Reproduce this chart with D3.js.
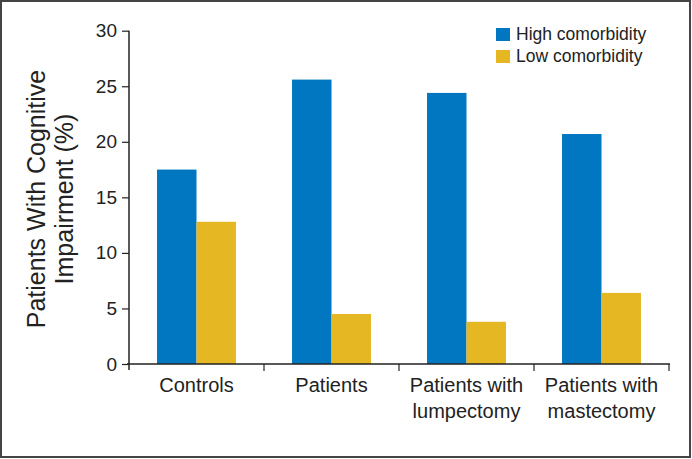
<!DOCTYPE html>
<html><head><meta charset="utf-8">
<script src="https://cdn.jsdelivr.net/npm/d3@7"></script>
<style>
html,body{margin:0;padding:0;background:#fff;}
svg{display:block;font-family:"Liberation Sans",Arial,sans-serif;}
</style></head>
<body><svg id="c" width="692" height="459"></svg>
<script>
const categories = [["Controls"], ["Patients"], ["Patients with", "lumpectomy"], ["Patients with", "mastectomy"]];
const seriesNames = ["High comorbidity", "Low comorbidity"];
const highValues = [17.5, 25.6, 24.4, 20.7];
const lowValues = [12.8, 4.5, 3.8, 6.4];
const yTicks = [0, 5, 10, 15, 20, 25, 30];
const colors = ["#0077C0", "#E5B823"];

const svg = d3.select("#c");
const W = 692, H = 459;
const m = {left: 129};

svg.append("rect").attr("x", 1).attr("y", 1).attr("width", W - 3).attr("height", H - 3)
  .attr("fill", "#fff").attr("stroke", "#444").attr("stroke-width", 2);

const x = d3.scaleBand().domain(d3.range(categories.length)).range([m.left, 669]).paddingInner(0).paddingOuter(0);
const y = d3.scaleLinear().domain([0, 30]).range([364, 30.7]);
const inner = d3.scaleBand().domain(d3.range(2)).range([0, x.bandwidth()]).paddingInner(0).paddingOuter(0.71);

const data = categories.map((c, i) => ({i, vals: [highValues[i], lowValues[i]]}));

const g = svg.append("g").selectAll("g").data(data).join("g")
  .attr("transform", d => `translate(${x(d.i)},0)`);
g.selectAll("rect").data(d => d.vals.map((v, k) => ({v, k}))).join("rect")
  .attr("x", d => inner(d.k)).attr("width", inner.bandwidth())
  .attr("y", d => y(d.v)).attr("height", d => y(0) - y(d.v))
  .attr("fill", d => colors[d.k]);

// y axis
const ya = svg.append("g").attr("transform", `translate(${m.left},0)`)
  .call(d3.axisLeft(y).tickValues(yTicks).tickSize(7).tickPadding(5));
ya.select(".domain").attr("stroke", "#222").attr("stroke-width", 1.5).attr("d", `M-0,${y(0)+6}V${y(30)}`);
ya.selectAll(".tick line").attr("stroke", "#222").attr("stroke-width", 1.2);
ya.selectAll(".tick text").attr("fill", "#222").style("font-size", "19px");

// x axis
const xa = svg.append("g").attr("transform", `translate(0,${y(0)})`);
xa.append("line").attr("x1", m.left - 2).attr("x2", 670).attr("y1", 0).attr("y2", 0)
  .attr("stroke", "#222").attr("stroke-width", 1.5);
xa.selectAll("line.tk").data(d3.range(1, categories.length + 1)).join("line").attr("class", "tk")
  .attr("x1", d => x(d - 1) + x.bandwidth()).attr("x2", d => x(d - 1) + x.bandwidth())
  .attr("y1", 0).attr("y2", 7).attr("stroke", "#222").attr("stroke-width", 1.2);
xa.selectAll("text").data(data).join("text")
  .attr("x", d => x(d.i) + x.bandwidth() / 2).attr("y", 28)
  .attr("text-anchor", "middle").attr("fill", "#222").style("font-size", "20px")
  .each(function(d) {
    d3.select(this).selectAll("tspan").data(categories[d.i]).join("tspan")
      .attr("x", x(d.i) + x.bandwidth() / 2).attr("dy", (t, j) => j === 0 ? 0 : 26).text(t => t);
  });

// y label
const yl = svg.append("text").attr("transform", `translate(45,199) rotate(-90)`)
  .attr("text-anchor", "middle").attr("fill", "#222").style("font-size", "25px");
yl.append("tspan").attr("x", 0).attr("dy", 0).text("Patients With Cognitive");
yl.append("tspan").attr("x", 0).attr("dy", 28).text("Impairment (%)");

// legend
const lg = svg.append("g").attr("transform", "translate(496,28)");
const li = lg.selectAll("g").data(seriesNames).join("g").attr("transform", (d, i) => `translate(0,${i * 22})`);
li.append("rect").attr("width", 14).attr("height", 13).attr("fill", (d, i) => colors[i]);
li.append("text").attr("x", 20).attr("y", 12).attr("fill", "#222").style("font-size", "17.5px").text(d => d);
</script></body></html>
